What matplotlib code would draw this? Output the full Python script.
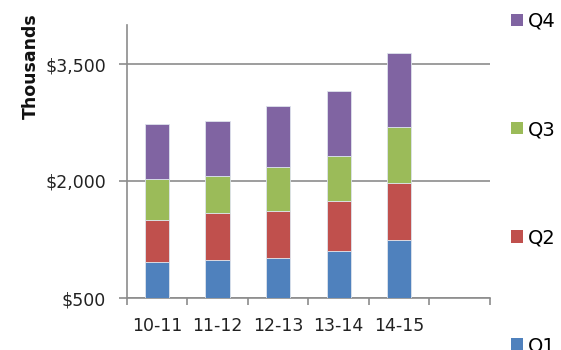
import matplotlib
matplotlib.use("Agg")
import matplotlib.pyplot as plt
import numpy as np
from matplotlib.patches import Patch

categories = ["10-11", "11-12", "12-13", "13-14", "14-15"]
series_names = ["Q1", "Q2", "Q3", "Q4"]
q1 = [962, 987, 1013, 1098, 1244]
q2 = [542, 607, 606, 642, 726]
q3 = [518, 466, 560, 576, 726]
q4 = [705, 709, 783, 842, 941]
colors = ["#4F81BD", "#C0504D", "#9BBB59", "#8064A2"]
y_ticks = [500, 2000, 3500]
y_tick_labels = ["$500", "$2,000", "$3,500"]

plt.rcParams['font.family'] = ['DejaVu Sans']

W, H = 561, 350
fig = plt.figure(figsize=(W / 100, H / 100), dpi=100)
ax = fig.add_axes([126.7 / W, (H - 298) / H, (490 - 126.7) / W, (298 - 25) / H])

x = np.arange(len(categories)) + 0.5
bottom = np.zeros(len(categories))
handles = []
for vals, name, c in zip([q1, q2, q3, q4], series_names, colors):
    ax.bar(x, vals, width=0.4, bottom=bottom, color=c, edgecolor="#DDE3EC",
           linewidth=0.6, zorder=3)
    bottom = bottom + np.array(vals)
    handles.append(Patch(facecolor=c, edgecolor="none", label=name))

ax.set_xlim(0, len(categories) + 1)
ax.set_ylim(500, 4000)
ax.set_yticks(y_ticks)
ax.set_yticklabels(y_tick_labels)
ax.set_xticks(np.arange(0, len(categories) + 2))
ax.set_xticklabels([])
ax.set_xticks(x, minor=True)
ax.set_xticklabels(categories, minor=True)
ax.tick_params(axis="x", which="minor", length=0, pad=14, labelsize=12.5, colors="#222222")
ax.tick_params(axis="x", which="major", length=5, width=1.2, color="#8C8C8C")
ax.tick_params(axis="y", length=6, width=1.2, color="#8C8C8C", labelsize=12.5,
               labelcolor="#222222", pad=9)

ax.grid(axis="y", color="#8C8C8C", linewidth=1.2, zorder=0)
for s in ["top", "right"]:
    ax.spines[s].set_visible(False)
for s in ["left", "bottom"]:
    ax.spines[s].set_color("#8C8C8C")
    ax.spines[s].set_linewidth(1.2)

fig.text(31 / W, 1 - 66 / H, "Thousands", rotation=90, ha="center", va="center",
         fontsize=12.5, fontweight="bold", color="#111111")

leg = fig.legend(handles=handles[::-1], loc="upper left",
                 bbox_to_anchor=(503 / W, 1 - 4 / H), frameon=False,
                 fontsize=14, handlelength=0.62, handleheight=0.62,
                 handletextpad=0.26, labelspacing=4.59, borderaxespad=0)

fig.savefig("out.png", dpi=100)
